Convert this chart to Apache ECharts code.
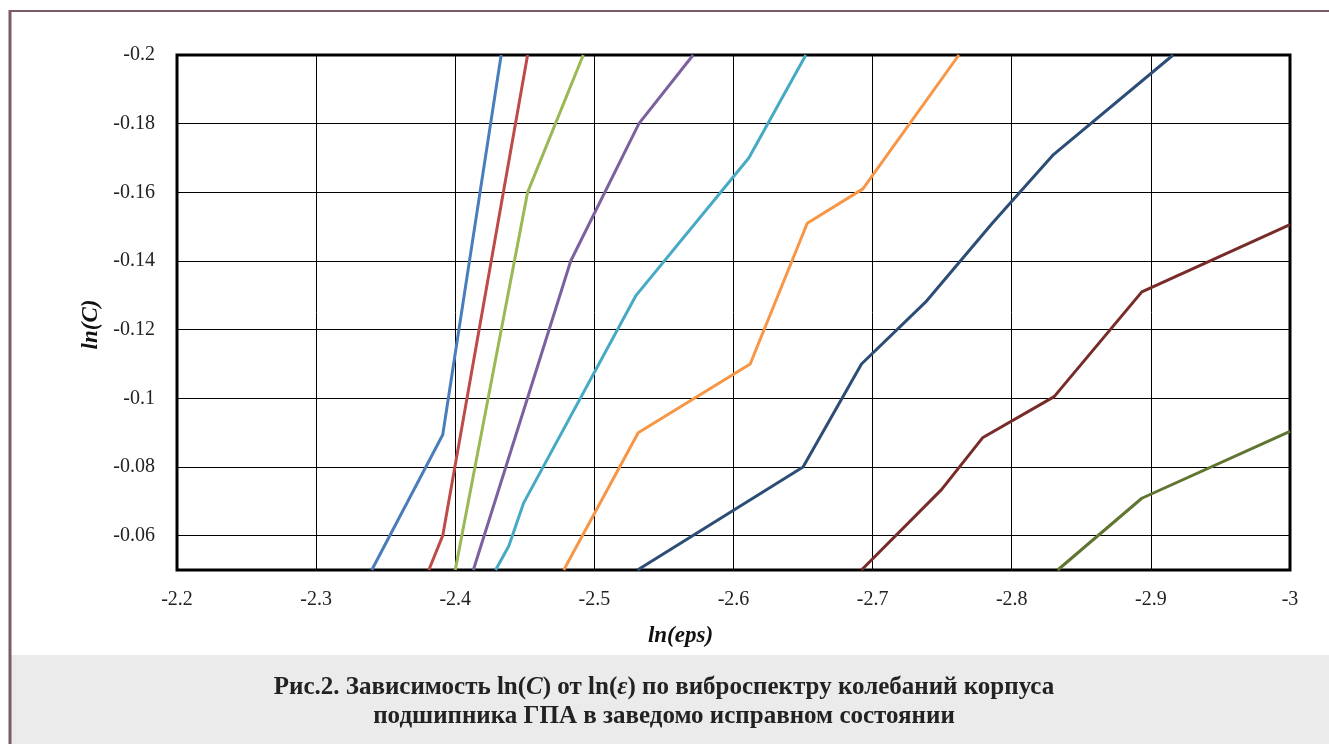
<!DOCTYPE html>
<html>
<head>
<meta charset="utf-8">
<script src="https://cdn.jsdelivr.net/npm/echarts@6/dist/echarts.min.js"></script>
<style>
  html, body { margin: 0; padding: 0; background: #fff; }
  #chart { width: 1329px; height: 744px; }
</style>
</head>
<body>
<div id="chart"></div>
<script>
// данные: ln(eps) и ln(C) для каждой кривой
const eps1 = [-2.340, -2.391, -2.433]
const lnC1 = [-0.05, -0.0894, -0.2]
const eps2 = [-2.381, -2.391, -2.452]
const lnC2 = [-0.05, -0.060, -0.2]
const eps3 = [-2.400, -2.452, -2.492]
const lnC3 = [-0.05, -0.160, -0.2]
const eps4 = [-2.413, -2.483, -2.532, -2.571]
const lnC4 = [-0.05, -0.140, -0.180, -0.2]
const eps5 = [-2.429, -2.4385, -2.449, -2.530, -2.611, -2.652]
const lnC5 = [-0.05, -0.057, -0.0694, -0.130, -0.170, -0.2]
const eps6 = [-2.478, -2.5315, -2.612, -2.653, -2.693, -2.762]
const lnC6 = [-0.05, -0.090, -0.110, -0.151, -0.161, -0.2]
const eps7 = [-2.531, -2.650, -2.692, -2.738, -2.786, -2.830, -2.916]
const lnC7 = [-0.05, -0.080, -0.110, -0.128, -0.151, -0.171, -0.2]
const eps8 = [-2.692, -2.7495, -2.779, -2.8305, -2.8935, -3.0]
const lnC8 = [-0.05, -0.0734, -0.0885, -0.1005, -0.131, -0.1506]
const eps9 = [-2.833, -2.8935, -3.0]
const lnC9 = [-0.05, -0.0709, -0.0904]

const colors = ['#4A7EBB', '#BE4B48', '#98B954', '#7D60A0', '#46AAC5', '#F79646', '#2C4D75', '#772C2A', '#5F7530']
const curves = [
  [eps1, lnC1], [eps2, lnC2], [eps3, lnC3], [eps4, lnC4], [eps5, lnC5],
  [eps6, lnC6], [eps7, lnC7], [eps8, lnC8], [eps9, lnC9]
]

const serif = '"Liberation Serif", "DejaVu Serif", serif'
const frameColor = '#7B5B67'

const chart = echarts.init(document.getElementById('chart'))

const option = {
  animation: false,
  backgroundColor: '#fff',
  graphic: [
    { type: 'rect', z: -10, shape: { x: 11, y: 655, width: 1318, height: 89 }, style: { fill: '#EAEBEA' } },
    { type: 'line', shape: { x1: 9, y1: 11, x2: 1329, y2: 11 }, style: { stroke: frameColor, lineWidth: 2 } },
    { type: 'line', shape: { x1: 10, y1: 10, x2: 10, y2: 744 }, style: { stroke: frameColor, lineWidth: 3 } },
    // подпись рисунка
    {
      type: 'text',
      x: 664,
      y: 702,
      style: {
        text: 'Рис.2. Зависимость ln({i|C}) от ln({i|ε}) по виброспектру колебаний корпуса\nподшипника ГПА в заведомо исправном состоянии',
        align: 'center',
        verticalAlign: 'middle',
        fontFamily: serif,
        fontWeight: 'bold',
        fontSize: 25,
        lineHeight: 29,
        fill: '#222',
        rich: {
          i: { fontFamily: serif, fontWeight: 'bold', fontStyle: 'italic', fontSize: 25, lineHeight: 29, fill: '#222' }
        }
      }
    }
  ],
  grid: {
    left: 177,
    right: 39,
    top: 55,
    bottom: 174,
    show: true,
    borderColor: '#000',
    borderWidth: 3,
    backgroundColor: 'transparent'
  },
  xAxis: {
    type: 'value',
    min: -3,
    max: -2.2,
    interval: 0.1,
    inverse: true,
    name: 'ln(eps)',
    nameLocation: 'middle',
    nameGap: 55,
    nameTextStyle: { fontFamily: serif, fontWeight: 'bold', fontStyle: 'italic', fontSize: 23, color: '#111', padding: [0, 106, 0, 0] },
    axisLine: { show: false },
    axisTick: { show: false },
    axisLabel: { fontFamily: serif, fontSize: 20, color: '#222', margin: 20 },
    splitLine: { show: true, lineStyle: { color: '#000', width: 1 } }
  },
  yAxis: {
    type: 'value',
    min: -0.2,
    max: -0.05,
    interval: 0.02,
    inverse: true,
    name: 'ln(C)',
    nameLocation: 'middle',
    nameGap: 74,
    nameTextStyle: { fontFamily: serif, fontWeight: 'bold', fontStyle: 'italic', fontSize: 23, color: '#111', padding: [0, 24, 0, 0] },
    axisLine: { show: false },
    axisTick: { show: false },
    axisLabel: {
      fontFamily: serif, fontSize: 20, color: '#222', margin: 22,
      formatter: v => (Math.abs(v + 0.05) < 1e-9 ? '' : String(+v.toFixed(2)))
    },
    splitLine: { show: true, lineStyle: { color: '#000', width: 1 } }
  },
  series: curves.map((c, i) => ({
    type: 'line',
    data: c[0].map((x, j) => [x, c[1][j]]),
    showSymbol: false,
    symbol: 'none',
    clip: true,
    lineStyle: { color: colors[i], width: 3 },
    itemStyle: { color: colors[i] }
  }))
}

chart.setOption(option)
</script>
</body>
</html>
